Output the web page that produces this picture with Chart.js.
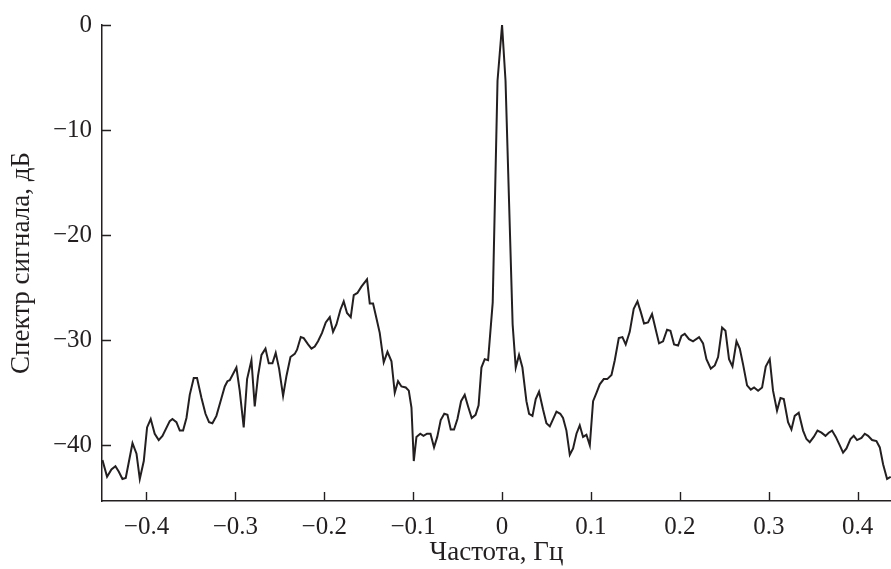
<!DOCTYPE html>
<html>
<head>
<meta charset="utf-8">
<script src="https://cdn.jsdelivr.net/npm/chart.js@4/dist/chart.umd.min.js"></script>
<style>
  html, body { margin: 0; padding: 0; background: #ffffff; }
  #wrap { width: 891px; height: 569px; position: relative; }
</style>
</head>
<body>
<div id="wrap"><canvas id="c" width="891" height="569"></canvas></div>
<script>
// Frequency, Hz
const freqs = [
  -0.4495, -0.4443, -0.4394, -0.4349, -0.4312, -0.4270, -0.4233, -0.4157, -0.4112, -0.4075,
  -0.4030, -0.3993, -0.3952, -0.3907, -0.3862, -0.3820, -0.3738, -0.3708, -0.3663, -0.3625,
  -0.3588, -0.3550, -0.3513, -0.3468, -0.3431, -0.3381, -0.3336, -0.3296, -0.3258, -0.3213,
  -0.3156, -0.3119, -0.3089, -0.3063, -0.2988, -0.2951, -0.2906, -0.2868, -0.2819, -0.2782,
  -0.2745, -0.2706, -0.2661, -0.2624, -0.2583, -0.2546, -0.2508, -0.2463, -0.2425, -0.2380,
  -0.2332, -0.2306, -0.2264, -0.2231, -0.2182, -0.2144, -0.2107, -0.2070, -0.2025, -0.1983,
  -0.1938, -0.1901, -0.1863, -0.1818, -0.1781, -0.1744, -0.1702, -0.1668, -0.1627, -0.1582,
  -0.1519, -0.1488, -0.1451, -0.1413, -0.1376, -0.1331, -0.1289, -0.1244, -0.1207, -0.1170,
  -0.1132, -0.1083, -0.1049, -0.1019, -0.0993, -0.0963, -0.0920, -0.0884, -0.0844, -0.0805,
  -0.0765, -0.0729, -0.0690, -0.0650, -0.0614, -0.0577, -0.0540, -0.0502, -0.0461, -0.0420,
  -0.0382, -0.0341, -0.0298, -0.0264, -0.0232, -0.0195, -0.0157, -0.0105, -0.0051, 0.0000,
  0.0039, 0.0119, 0.0154, 0.0191, 0.0229, 0.0274, 0.0304, 0.0342, 0.0379, 0.0416,
  0.0461, 0.0499, 0.0537, 0.0574, 0.0612, 0.0655, 0.0686, 0.0724, 0.0762, 0.0799,
  0.0837, 0.0874, 0.0911, 0.0949, 0.0987, 0.1024, 0.1062, 0.1099, 0.1144, 0.1183,
  0.1231, 0.1268, 0.1313, 0.1354, 0.1391, 0.1436, 0.1481, 0.1523, 0.1560, 0.1597,
  0.1642, 0.1687, 0.1729, 0.1766, 0.1811, 0.1856, 0.1894, 0.1935, 0.1980, 0.2018,
  0.2055, 0.2103, 0.2148, 0.2216, 0.2261, 0.2299, 0.2348, 0.2393, 0.2430, 0.2475,
  0.2513, 0.2553, 0.2592, 0.2637, 0.2674, 0.2711, 0.2756, 0.2798, 0.2835, 0.2880,
  0.2925, 0.2966, 0.3011, 0.3048, 0.3093, 0.3132, 0.3169, 0.3217, 0.3255, 0.3292,
  0.3337, 0.3386, 0.3424, 0.3461, 0.3506, 0.3548, 0.3593, 0.3638, 0.3675, 0.3712,
  0.3754, 0.3799, 0.3836, 0.3874, 0.3919, 0.3956, 0.3993, 0.4043, 0.4080, 0.4117,
  0.4162, 0.4211, 0.4249, 0.4286, 0.4331, 0.4372
];
// Signal spectrum, dB
const levels = [
  -41.4, -43.0, -42.3, -42.0, -42.5, -43.2, -43.1, -39.8, -40.8, -43.2,
  -41.5, -38.3, -37.5, -38.9, -39.5, -39.1, -37.7, -37.5, -37.8, -38.6,
  -38.6, -37.4, -35.2, -33.6, -33.6, -35.5, -37.0, -37.8, -37.9, -37.2,
  -35.5, -34.4, -33.9, -33.8, -32.6, -34.8, -38.3, -33.7, -31.9, -36.3,
  -33.4, -31.4, -30.8, -32.2, -32.2, -31.2, -32.7, -35.3, -33.4, -31.6,
  -31.3, -30.9, -29.7, -29.8, -30.4, -30.8, -30.6, -30.1, -29.3, -28.3,
  -27.8, -29.2, -28.5, -27.1, -26.3, -27.4, -27.8, -25.7, -25.5, -24.9,
  -24.2, -26.5, -26.5, -27.9, -29.3, -32.1, -31.1, -32.0, -35.0, -33.9,
  -34.4, -34.5, -34.8, -36.4, -41.5, -39.2, -38.9, -39.1, -38.9, -38.9,
  -40.2, -39.2, -37.6, -37.0, -37.1, -38.5, -38.5, -37.5, -35.8, -35.2,
  -36.3, -37.4, -37.1, -36.2, -32.6, -31.8, -31.9, -26.4, -5.3, 0.0,
  -5.3, -28.5, -32.6, -31.4, -32.6, -35.8, -37.0, -37.2, -35.6, -34.9,
  -36.6, -37.9, -38.2, -37.5, -36.8, -37.0, -37.4, -38.6, -40.9, -40.3,
  -38.9, -38.1, -39.2, -39.0, -40.0, -35.8, -35.0, -34.2, -33.7, -33.7,
  -33.3, -31.9, -29.8, -29.7, -30.4, -29.2, -27.0, -26.3, -27.3, -28.4,
  -28.3, -27.5, -29.0, -30.3, -30.1, -29.0, -29.1, -30.4, -30.5, -29.6,
  -29.4, -29.9, -30.1, -29.7, -30.3, -31.8, -32.7, -32.4, -31.6, -28.8,
  -29.1, -31.8, -32.5, -30.1, -30.8, -32.3, -34.3, -34.7, -34.5, -34.8,
  -34.5, -32.5, -31.8, -34.8, -36.7, -35.5, -35.6, -37.8, -38.5, -37.2,
  -36.9, -38.6, -39.4, -39.7, -39.2, -38.6, -38.8, -39.1, -38.8, -38.6,
  -39.2, -40.0, -40.7, -40.3, -39.4, -39.1, -39.5, -39.3, -38.9, -39.1,
  -39.5, -39.6, -40.2, -41.8, -43.2, -43.0
];
const xTickValues = [-0.4, -0.3, -0.2, -0.1, 0, 0.1, 0.2, 0.3, 0.4];
const yTickValues = [0, -10, -20, -30, -40];
const xTitle = 'Частота, Гц';
const yTitle = 'Спектр сигнала, дБ';

const INK = '#231f20';
const FONT = "'Liberation Serif', 'Times New Roman', serif";

function fmt(v) {
  const s = String(Math.abs(v) < 1e-9 ? 0 : v);
  return s.replace('-', '\u2212');
}

const innerTicks = {
  id: 'innerTicks',
  afterDraw(chart) {
    const ctx = chart.ctx;
    const xs = chart.scales.x, ys = chart.scales.y;
    const a = chart.chartArea;
    ctx.save();
    ctx.strokeStyle = INK;
    ctx.lineWidth = 1.4;
    ctx.beginPath();
    xTickValues.forEach(v => {
      const px = Math.round(xs.getPixelForValue(v)) + 0.5;
      ctx.moveTo(px, a.bottom);
      ctx.lineTo(px, a.bottom - 9);
    });
    yTickValues.forEach(v => {
      const py = Math.round(ys.getPixelForValue(v)) + 0.5;
      ctx.moveTo(a.left, py);
      ctx.lineTo(a.left + 9, py);
    });
    ctx.stroke();
    ctx.restore();
  }
};

new Chart(document.getElementById('c'), {
  type: 'line',
  data: {
    datasets: [{
      data: freqs.map((f, i) => ({ x: f, y: levels[i] })),
      borderColor: INK,
      borderWidth: 2,
      pointRadius: 0,
      tension: 0,
      fill: false
    }]
  },
  options: {
    responsive: false,
    animation: false,
    devicePixelRatio: 1,
    layout: { padding: { top: 21, right: 0, left: 0, bottom: 0 } },
    plugins: { legend: { display: false }, tooltip: { enabled: false } },
    scales: {
      x: {
        type: 'linear',
        min: -0.45,
        max: 0.4375,
        afterFit(s) { s.height = 68; },
        afterBuildTicks(s) { s.ticks = xTickValues.map(v => ({ value: v })); },
        grid: { display: true, drawOnChartArea: false, drawTicks: false, tickLength: 0 },
        border: { display: true, color: INK, width: 1.5 },
        ticks: {
          color: INK,
          padding: 11,
          autoSkip: false,
          maxRotation: 0,
          font: { family: FONT, size: 25 },
          callback: v => fmt(v)
        },
        title: {
          display: true,
          text: xTitle,
          color: INK,
          font: { family: FONT, size: 27 },
          padding: { top: 0, bottom: 0 }
        }
      },
      y: {
        type: 'linear',
        min: -45.3,
        max: 0,
        afterFit(s) { s.width = 102; },
        afterBuildTicks(s) { s.ticks = yTickValues.map(v => ({ value: v })); },
        grid: { display: true, drawOnChartArea: false, drawTicks: false, tickLength: 0 },
        border: { display: true, color: INK, width: 1.5 },
        ticks: {
          color: INK,
          padding: 10,
          autoSkip: false,
          font: { family: FONT, size: 25 },
          callback: v => fmt(v)
        },
        title: {
          display: true,
          text: yTitle,
          color: INK,
          font: { family: FONT, size: 27 },
          padding: { top: 6, bottom: 0 }
        }
      }
    }
  },
  plugins: [innerTicks]
});
</script>
</body>
</html>
